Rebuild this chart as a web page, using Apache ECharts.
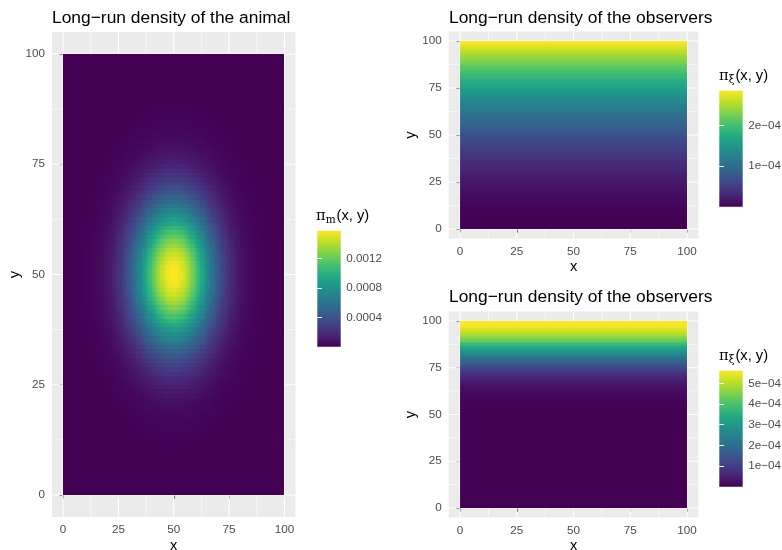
<!DOCTYPE html>
<html><head><meta charset="utf-8">
<script src="https://cdn.jsdelivr.net/npm/echarts@6/dist/echarts.min.js"></script>
<style>html,body{margin:0;padding:0;background:#fff}#c{width:782px;height:550px}</style>
</head><body><div id="c"></div>
<script>
// ---- data ----
const axisTicks = [0, 25, 50, 75, 100];
const minorTicks = [12.5, 37.5, 62.5, 87.5];
const axisLabels = ['0', '25', '50', '75', '100'];

// animal density: peak value and relative profiles along x and y (cells 0..99)
const animalPeak = 0.00158;
const animalXWeight = [
  0.000,0.001,0.001,0.001,0.001,0.002,0.002,0.003,0.004,0.005,
  0.007,0.009,0.011,0.014,0.018,0.022,0.028,0.034,0.042,0.051,
  0.062,0.074,0.089,0.106,0.125,0.146,0.171,0.198,0.228,0.261,
  0.296,0.334,0.375,0.418,0.464,0.510,0.558,0.607,0.655,0.703,
  0.749,0.794,0.835,0.874,0.908,0.937,0.962,0.980,0.993,0.999,
  0.999,0.993,0.980,0.962,0.937,0.908,0.874,0.835,0.794,0.749,
  0.703,0.655,0.607,0.558,0.510,0.464,0.418,0.375,0.334,0.296,
  0.261,0.228,0.198,0.171,0.146,0.125,0.106,0.089,0.074,0.062,
  0.051,0.042,0.034,0.028,0.022,0.018,0.014,0.011,0.009,0.007,
  0.005,0.004,0.003,0.002,0.002,0.001,0.001,0.001,0.001,0.000];
const animalYWeight = [
  0,0,0,0,0,0.001,0.001,0.001,0.001,0.002,
  0.003,0.004,0.005,0.006,0.009,0.011,0.014,0.018,0.023,0.030,
  0.037,0.046,0.057,0.070,0.086,0.103,0.124,0.147,0.174,0.204,
  0.237,0.274,0.314,0.357,0.403,0.452,0.502,0.554,0.607,0.659,
  0.711,0.761,0.808,0.852,0.892,0.926,0.955,0.977,0.992,0.999,
  0.999,0.992,0.977,0.955,0.926,0.892,0.852,0.808,0.761,0.711,
  0.659,0.607,0.554,0.502,0.452,0.403,0.357,0.314,0.274,0.237,
  0.204,0.174,0.147,0.124,0.103,0.086,0.070,0.057,0.046,0.037,
  0.030,0.023,0.018,0.014,0.011,0.009,0.006,0.005,0.004,0.003,
  0.002,0.001,0.001,0.001,0.001,0,0,0,0,0];

// observers density by row y = 0..99 (uniform in x), in units of 1e-4
const observerTopE4 = [
  0.000,0.001,0.002,0.004,0.006,0.009,0.012,0.016,0.021,0.026,
  0.032,0.038,0.045,0.052,0.061,0.069,0.078,0.088,0.099,0.110,
  0.121,0.133,0.146,0.159,0.173,0.187,0.202,0.218,0.234,0.251,
  0.268,0.286,0.304,0.323,0.343,0.363,0.384,0.405,0.427,0.449,
  0.472,0.496,0.520,0.545,0.570,0.596,0.623,0.650,0.677,0.706,
  0.735,0.764,0.794,0.824,0.855,0.887,0.919,0.952,0.986,1.020,
  1.054,1.089,1.125,1.161,1.198,1.236,1.274,1.312,1.351,1.391,
  1.431,1.472,1.514,1.556,1.599,1.642,1.685,1.730,1.775,1.820,
  1.866,1.913,1.960,2.008,2.056,2.105,2.155,2.205,2.256,2.307,
  2.359,2.411,2.464,2.518,2.572,2.627,2.682,2.738,2.794,2.851];
const observerBottomE4 = [
  0,0,0,0,0,0,0,0,0,0,
  0,0,0,0,0,0,0,0,0,0,
  0,0,0,0,0,0,0,0,0,0,
  0,0,0,0,0,0,0,0,0,0,
  0.001,0.001,0.002,0.002,0.003,0.004,0.005,0.006,0.008,0.010,
  0.013,0.016,0.021,0.026,0.033,0.041,0.051,0.064,0.079,0.096,
  0.117,0.143,0.172,0.207,0.247,0.294,0.348,0.410,0.480,0.560,
  0.650,0.750,0.861,0.985,1.120,1.268,1.428,1.601,1.786,1.982,
  2.189,2.405,2.630,2.861,3.097,3.336,3.575,3.814,4.048,4.275,
  4.493,4.698,4.888,5.061,5.214,5.345,5.452,5.534,5.589,5.617];

const animalLegendTicks = [0.0004, 0.0008, 0.0012];
const topLegendTicks = [0.0001, 0.0002];
const bottomLegendTicks = [0.0001, 0.0002, 0.0003, 0.0004, 0.0005];

const viridis = ['#440154','#482576','#414487','#35608D','#2A788E','#21908C',
                 '#22A884','#43BF71','#7AD151','#BBDF27','#FDE725'];

// ---- build tables ----
const animalData = [];
for (let i = 0; i < animalXWeight.length; i++)
  for (let j = 0; j < animalYWeight.length; j++)
    animalData.push([i, j, animalPeak * animalXWeight[i] * animalYWeight[j]]);
const topData = observerTopE4.map((v, j) => [j, v * 1e-4]);
const bottomData = observerBottomE4.map((v, j) => [j, v * 1e-4]);
const animalMax = Math.max(...animalData.map(d => d[2]));
const topMax = Math.max(...topData.map(d => d[1]));
const bottomMax = Math.max(...bottomData.map(d => d[1]));

const gridLineData = [];
axisTicks.forEach(v => { gridLineData.push([0, v, 1]); gridLineData.push([1, v, 1]); });
minorTicks.forEach(v => { gridLineData.push([0, v, 0]); gridLineData.push([1, v, 0]); });

const FONT = 'Liberation Sans, Arial, Helvetica, sans-serif';

function gridLineRender(params, api) {
  const o = api.value(0), v = api.value(1), major = api.value(2);
  const a = o === 0 ? api.coord([v, -5]) : api.coord([-5, v]);
  const b = o === 0 ? api.coord([v, 105]) : api.coord([105, v]);
  return { type: 'line', shape: { x1: a[0], y1: a[1], x2: b[0], y2: b[1] },
           style: { stroke: '#FFFFFF', lineWidth: major ? 1.07 : 0.53 } };
}
function cellRender(params, api) {
  const x = api.value(0), y = api.value(1);
  const p1 = api.coord([x, y + 1]), p2 = api.coord([x + 1, y]);
  const x0 = Math.round(p1[0]), x1 = Math.round(p2[0]);
  const y0 = Math.round(p1[1]), y1 = Math.round(p2[1]);
  return { type: 'rect', shape: { x: x0, y: y0, width: x1 - x0, height: y1 - y0 },
           style: { fill: api.visual('color') } };
}
function rowRender(params, api) {
  const y = api.value(0);
  const p1 = api.coord([0, y + 1]), p2 = api.coord([100, y]);
  const y0 = Math.round(p1[1]), y1 = Math.round(p2[1]);
  return { type: 'rect', shape: { x: p1[0], y: y0, width: p2[0] - p1[0], height: y1 - y0 },
           style: { fill: api.visual('color') } };
}
function colorbarRender(maxV) {
  return function (params, api) {
    const p0 = api.coord([0, 0]), p1 = api.coord([1, maxV]);
    const stops = viridis.map((c, k) => ({ offset: k / (viridis.length - 1), color: c }));
    return { type: 'rect', shape: { x: p0[0], y: p1[1], width: p1[0] - p0[0], height: p0[1] - p1[1] },
             style: { fill: new echarts.graphic.LinearGradient(0, 1, 0, 0, stops) } };
  };
}

const grids = [
  { left: 52, top: 32, width: 243.5, height: 485 },
  { left: 448.7, top: 31.6, width: 249.7, height: 206.8 },
  { left: 448.7, top: 311.6, width: 249.7, height: 205.8 },
  { left: 317.3, top: 230.7, width: 23.4, height: 116 },
  { left: 719.3, top: 90.7, width: 23.4, height: 116 },
  { left: 719.3, top: 370.7, width: 23.4, height: 116 }
].map((g, k) => Object.assign({ show: k < 3, backgroundColor: '#EBEBEB', borderWidth: 0,
                                 containLabel: false, outerBoundsMode: 'none' }, g));

function mainAxis(gi, name, isX) {
  return {
    type: 'value', gridIndex: gi, min: -5, max: 105,
    name: name, nameLocation: 'middle', nameGap: isX ? 21 : 30, nameMoveOverlap: false,
    nameTextStyle: { color: '#000', fontSize: 14.7, fontFamily: FONT },
    axisLine: { show: false },
    axisTick: { show: true, length: 3.7, customValues: axisTicks, lineStyle: { color: '#333333', width: 1.07 } },
    axisLabel: { customValues: axisTicks, color: '#4D4D4D', fontSize: 11.7, fontFamily: FONT, margin: 7,
                 formatter: v => axisLabels[axisTicks.indexOf(v)] },
    splitLine: { show: false }, minorSplitLine: { show: false }
  };
}
function cbXAxis(gi) { return { type: 'value', gridIndex: gi, min: 0, max: 1, show: false }; }
function cbYAxis(gi, maxV, ticks, fmt, pos) {
  return {
    type: 'value', gridIndex: gi, min: 0, max: maxV, position: pos, z: 10,
    axisLine: { show: false }, splitLine: { show: false },
    axisTick: { show: true, inside: true, length: 4.7, customValues: ticks, lineStyle: { color: '#FFFFFF', width: 1 } },
    axisLabel: { show: pos === 'right', customValues: ticks, color: '#4D4D4D', fontSize: 11.7, fontFamily: FONT, margin: 5.5, formatter: fmt }
  };
}
const fmtE = v => Math.round(v * 1e4) + 'e\u221204';
const fmtD = v => v.toFixed(4);

const titleStyle = { fontSize: 17.4, fontWeight: 'normal', color: '#000', fontFamily: FONT };
const legendRich = {
  a: { fontSize: 14.7, fontWeight: 'normal', color: '#000', fontFamily: FONT, lineHeight: 20 },
  p: { fontSize: 14.7, fontWeight: 'normal', color: '#000', fontFamily: 'DejaVu Serif, serif', lineHeight: 20 },
  s: { fontSize: 10.5, fontWeight: 'normal', color: '#000', fontFamily: 'DejaVu Serif, serif', lineHeight: 20,
       verticalAlign: 'bottom', padding: [0, 1, 0, 0] }
};
function legendTitle(sub, left, top) {
  return { text: '{p|π}{s|' + sub + '}{a|(x, y)}', left: left, top: top,
           textStyle: { rich: legendRich, fontSize: 14.7, fontWeight: 'normal' } };
}

const option = {
  animation: false,
  backgroundColor: '#FFFFFF',
  title: [
    { text: 'Long\u2212run density of the animal', left: 47, top: 5, textStyle: titleStyle },
    { text: 'Long\u2212run density of the observers', left: 444, top: 5, textStyle: titleStyle },
    { text: 'Long\u2212run density of the observers', left: 444, top: 284, textStyle: titleStyle },
    legendTitle('m', 311, 201),
    legendTitle('ξ', 714, 61),
    legendTitle('ξ', 714, 341)
  ],
  grid: grids,
  xAxis: [mainAxis(0, 'x', true), mainAxis(1, 'x', true), mainAxis(2, 'x', true), cbXAxis(3), cbXAxis(4), cbXAxis(5)],
  yAxis: [mainAxis(0, 'y', false), mainAxis(1, 'y', false), mainAxis(2, 'y', false),
          cbYAxis(3, animalMax, animalLegendTicks, fmtD, 'right'),
          cbYAxis(4, topMax, topLegendTicks, fmtE, 'right'),
          cbYAxis(5, bottomMax, bottomLegendTicks, fmtE, 'right'),
          cbYAxis(3, animalMax, animalLegendTicks, fmtD, 'left'),
          cbYAxis(4, topMax, topLegendTicks, fmtE, 'left'),
          cbYAxis(5, bottomMax, bottomLegendTicks, fmtE, 'left')],
  visualMap: [
    { type: 'continuous', show: false, seriesIndex: 3, dimension: 2, min: 0, max: animalMax, inRange: { color: viridis } },
    { type: 'continuous', show: false, seriesIndex: 4, dimension: 1, min: 0, max: topMax, inRange: { color: viridis } },
    { type: 'continuous', show: false, seriesIndex: 5, dimension: 1, min: 0, max: bottomMax, inRange: { color: viridis } }
  ],
  series: [
    { type: 'custom', xAxisIndex: 0, yAxisIndex: 0, data: gridLineData, renderItem: gridLineRender, z: 1, silent: true, progressive: 0 },
    { type: 'custom', xAxisIndex: 1, yAxisIndex: 1, data: gridLineData, renderItem: gridLineRender, z: 1, silent: true, progressive: 0 },
    { type: 'custom', xAxisIndex: 2, yAxisIndex: 2, data: gridLineData, renderItem: gridLineRender, z: 1, silent: true, progressive: 0 },
    { type: 'custom', xAxisIndex: 0, yAxisIndex: 0, data: animalData, renderItem: cellRender, z: 2, silent: true, progressive: 0 },
    { type: 'custom', xAxisIndex: 1, yAxisIndex: 1, data: topData, renderItem: rowRender, z: 2, silent: true, progressive: 0 },
    { type: 'custom', xAxisIndex: 2, yAxisIndex: 2, data: bottomData, renderItem: rowRender, z: 2, silent: true, progressive: 0 },
    { type: 'custom', xAxisIndex: 3, yAxisIndex: 3, data: [[0, 0]], renderItem: colorbarRender(animalMax), z: 0, silent: true },
    { type: 'custom', xAxisIndex: 4, yAxisIndex: 4, data: [[0, 0]], renderItem: colorbarRender(topMax), z: 0, silent: true },
    { type: 'custom', xAxisIndex: 5, yAxisIndex: 5, data: [[0, 0]], renderItem: colorbarRender(bottomMax), z: 0, silent: true }
  ]
};
const chart = echarts.init(document.getElementById('c'), null, { renderer: 'canvas' });
chart.setOption(option);
</script>
</body></html>
